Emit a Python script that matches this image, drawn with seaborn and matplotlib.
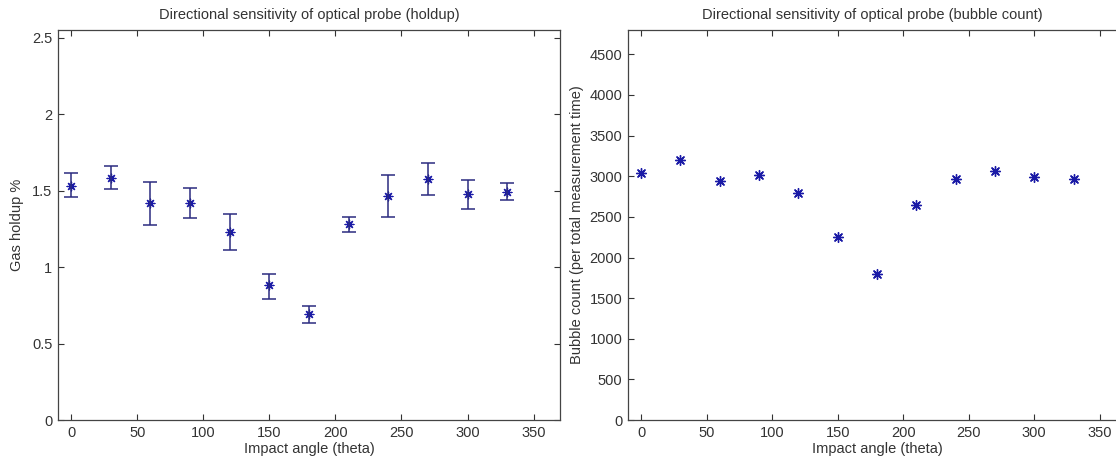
import numpy as np
import pandas as pd
import seaborn as sns
import matplotlib
matplotlib.use("Agg")
import matplotlib.pyplot as plt

angles = [0, 30, 60, 90, 120, 150, 180, 210, 240, 270, 300, 330]
holdup = [1.53, 1.585, 1.417, 1.417, 1.23, 0.88, 0.69, 1.284, 1.463, 1.578, 1.478, 1.493]
holdup_upper = [1.613, 1.66, 1.554, 1.517, 1.35, 0.952, 0.748, 1.328, 1.60, 1.68, 1.568, 1.552]
holdup_lower = [1.456, 1.51, 1.276, 1.32, 1.11, 0.794, 0.635, 1.232, 1.328, 1.47, 1.38, 1.44]
bubbles = [3045, 3199, 2942, 3021, 2793, 2255, 1802, 2648, 2971, 3062, 2987, 2971]

xticks = [0, 50, 100, 150, 200, 250, 300, 350]
yticks_left = [0, 0.5, 1, 1.5, 2, 2.5]
yticks_right = [0, 500, 1000, 1500, 2000, 2500, 3000, 3500, 4000, 4500]

sns.set_theme(style="ticks")
plt.rcParams['font.family'] = ['Liberation Sans', 'DejaVu Sans']
plt.rcParams['xtick.direction'] = 'in'
plt.rcParams['ytick.direction'] = 'in'

W, H = 1116, 463
fig = plt.figure(figsize=(W / 100, H / 100), dpi=100)
fig.patch.set_facecolor('white')

def box(l, r, t, b):
    return [l / W, (H - b) / H, (r - l) / W, (b - t) / H]

ax1 = fig.add_axes(box(58, 560, 30, 420))
ax2 = fig.add_axes(box(628, 1126, 30, 420))

df1 = pd.DataFrame({"angle": angles, "holdup": holdup})
df2 = pd.DataFrame({"angle": angles, "bubbles": bubbles})

mcol = '#1a1aa6'
ecol = '#2b2b80'
lo = np.array(holdup) - np.array(holdup_lower)
hi = np.array(holdup_upper) - np.array(holdup)
ax1.errorbar(angles, holdup, yerr=[lo, hi], fmt='none', ecolor=ecol,
             elinewidth=1.1, capsize=5, capthick=1.1)
sns.scatterplot(data=df1, x="angle", y="holdup", ax=ax1, marker=(8, 2, 0),
                s=40, color=mcol, edgecolor=mcol, linewidth=0.9)
sns.scatterplot(data=df2, x="angle", y="bubbles", ax=ax2, marker=(8, 2, 0),
                s=50, color=mcol, edgecolor=mcol, linewidth=1.0)

txtc = '#333333'
for ax, yt, ylim in [(ax1, yticks_left, (0, 2.55)), (ax2, yticks_right, (0, 4800))]:
    ax.set_xlim(-10, 370)
    ax.set_ylim(*ylim)
    ax.set_xticks(xticks)
    ax.set_xticklabels([str(v) for v in xticks])
    ax.set_yticks(yt)
    ax.set_yticklabels([('%g' % v) for v in yt])
    ax.tick_params(axis='both', which='both', top=True, right=True,
                   length=4, width=0.8, colors=txtc, labelsize=10.5, pad=4)
    for s in ax.spines.values():
        s.set_visible(True)
        s.set_color('#444444')
        s.set_linewidth(0.9)
    ax.set_facecolor('white')
    ax.grid(False)
    ax.set_xlabel("Impact angle (theta)", fontsize=10.5, color=txtc, labelpad=2)

ax1.set_ylabel("Gas holdup %", fontsize=10.5, color=txtc, labelpad=6)
ax2.set_ylabel("Bubble count (per total measurement time)", fontsize=10.5, color=txtc, labelpad=4)
ax1.set_title("Directional sensitivity of optical probe (holdup)", fontsize=10.5, color=txtc, pad=8)
ax2.set_title("Directional sensitivity of optical probe (bubble count)", fontsize=10.5, color=txtc, pad=8)
ax2.title.set_position((0.49, 1.0))

fig.savefig("out.png", dpi=100, facecolor='white')
